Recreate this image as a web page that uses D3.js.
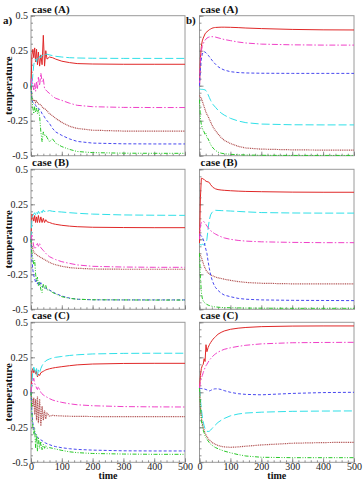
<!DOCTYPE html>
<html>
<head>
<meta charset="utf-8">
<script src="https://cdn.jsdelivr.net/npm/d3@7"></script>
<style>
  html, body { margin: 0; padding: 0; background: #fff; }
  svg { display: block; font-family: "Liberation Serif", "Times New Roman", serif; }
</style>
</head>
<body>
<div id="chart"></div>
<script>
/* ── Data ─────────────────────────────────────────────── */

const times = [0, 3, 6, 9, 12, 15, 18, 21, 24, 28, 32, 36, 40, 44, 48, 52, 60, 70, 80, 100, 125, 150, 200, 300, 400, 500];

const xTicks = [0, 100, 200, 300, 400, 500];
const yTicks = [-0.5, -0.25, 0, 0.25, 0.5];
const yTickLabels = ['-0.5', '-0.25', '0', '0.25', '0.5'];

const seriesNames = ['red', 'cyan', 'magenta', 'brown', 'blue', 'green'];

// panel a) case (A), left
const aRed     = [0.0, 0.22, 0.26, 0.2, 0.27, 0.17, 0.26, 0.15, 0.24, 0.14, 0.22, 0.15, 0.36, 0.14, 0.25, 0.19, 0.205, 0.2, 0.19, 0.175, 0.165, 0.158, 0.155, 0.153, 0.153, 0.153];
const aCyan    = [0.05, 0.0, 0.08, 0.15, 0.18, 0.19, 0.17, 0.2, 0.19, 0.21, 0.2, 0.22, 0.21, 0.22, 0.225, 0.225, 0.22, 0.215, 0.21, 0.205, 0.2, 0.198, 0.196, 0.195, 0.195, 0.195];
const aMagenta = [0.02, 0.05, 0.0, -0.03, 0.02, -0.04, 0.03, -0.02, 0.06, 0.0, 0.09, 0.03, 0.05, -0.02, -0.03, -0.04, -0.055, -0.075, -0.09, -0.105, -0.125, -0.14, -0.15, -0.155, -0.156, -0.156];
const aBrown   = [0.0, -0.08, -0.1, -0.11, -0.1, -0.12, -0.11, -0.12, -0.13, -0.13, -0.14, -0.15, -0.16, -0.165, -0.17, -0.18, -0.2, -0.215, -0.233, -0.262, -0.29, -0.305, -0.318, -0.324, -0.325, -0.325];
const aBlue    = [0.0, -0.1, -0.12, -0.13, -0.13, -0.14, -0.15, -0.16, -0.16, -0.17, -0.18, -0.2, -0.21, -0.225, -0.24, -0.25, -0.27, -0.305, -0.33, -0.355, -0.38, -0.398, -0.41, -0.415, -0.416, -0.416];
const aGreen   = [0.0, -0.1, -0.16, -0.2, -0.15, -0.19, -0.16, -0.2, -0.17, -0.22, -0.33, -0.4, -0.33, -0.36, -0.35, -0.37, -0.4, -0.38, -0.41, -0.435, -0.455, -0.47, -0.478, -0.482, -0.483, -0.483];

// panel b) case (A), right
const bRed     = [0.0, 0.2, 0.28, 0.32, 0.34, 0.355, 0.37, 0.38, 0.385, 0.393, 0.4, 0.405, 0.41, 0.413, 0.415, 0.416, 0.417, 0.418, 0.418, 0.417, 0.415, 0.412, 0.408, 0.402, 0.399, 0.398];
const bCyan    = [-0.02, -0.025, -0.026, -0.026, -0.027, -0.028, -0.03, -0.035, -0.045, -0.065, -0.085, -0.105, -0.12, -0.135, -0.145, -0.155, -0.175, -0.195, -0.21, -0.233, -0.252, -0.264, -0.274, -0.279, -0.28, -0.28];
const bMagenta = [0.0, 0.18, 0.25, 0.28, 0.3, 0.315, 0.325, 0.333, 0.34, 0.345, 0.348, 0.35, 0.35, 0.35, 0.349, 0.347, 0.342, 0.336, 0.33, 0.322, 0.312, 0.305, 0.297, 0.292, 0.29, 0.29];
const bBrown   = [-0.07, -0.08, -0.09, -0.11, -0.13, -0.15, -0.17, -0.19, -0.205, -0.22, -0.24, -0.26, -0.28, -0.295, -0.31, -0.322, -0.345, -0.37, -0.39, -0.413, -0.433, -0.445, -0.453, -0.458, -0.46, -0.46];
const bBlue    = [0.0, 0.12, 0.19, 0.225, 0.24, 0.243, 0.24, 0.235, 0.228, 0.218, 0.207, 0.195, 0.183, 0.172, 0.162, 0.153, 0.136, 0.122, 0.112, 0.1, 0.094, 0.091, 0.089, 0.088, 0.088, 0.088];
const bGreen   = [-0.1, -0.23, -0.28, -0.3, -0.32, -0.33, -0.35, -0.34, -0.37, -0.38, -0.4, -0.42, -0.435, -0.445, -0.455, -0.462, -0.475, -0.482, -0.486, -0.49, -0.493, -0.495, -0.497, -0.498, -0.498, -0.498];

// panel c) case (B), left
const cRed     = [0.0, 0.18, 0.16, 0.13, 0.17, 0.12, 0.16, 0.12, 0.17, 0.12, 0.16, 0.12, 0.15, 0.12, 0.14, 0.125, 0.12, 0.112, 0.107, 0.1, 0.094, 0.09, 0.086, 0.084, 0.083, 0.083];
const cCyan    = [0.0, 0.15, 0.17, 0.18, 0.19, 0.175, 0.195, 0.18, 0.2, 0.185, 0.205, 0.19, 0.21, 0.195, 0.205, 0.2, 0.205, 0.2, 0.198, 0.195, 0.19, 0.186, 0.18, 0.174, 0.172, 0.171];
const cMagenta = [0.0, 0.03, -0.01, -0.05, -0.07, -0.06, -0.04, -0.03, -0.05, -0.03, -0.06, -0.07, -0.08, -0.09, -0.1, -0.11, -0.124, -0.135, -0.145, -0.16, -0.172, -0.183, -0.193, -0.198, -0.2, -0.2];
const cBrown   = [0.0, -0.05, -0.07, -0.09, -0.1, -0.105, -0.11, -0.115, -0.12, -0.125, -0.13, -0.135, -0.14, -0.145, -0.15, -0.155, -0.165, -0.175, -0.182, -0.193, -0.202, -0.207, -0.212, -0.214, -0.214, -0.214];
const cBlue    = [0.0, -0.15, -0.22, -0.26, -0.28, -0.31, -0.29, -0.32, -0.3, -0.33, -0.31, -0.34, -0.33, -0.345, -0.35, -0.355, -0.362, -0.375, -0.387, -0.405, -0.42, -0.428, -0.432, -0.433, -0.433, -0.433];
const cGreen   = [0.0, -0.1, -0.14, -0.18, -0.15, -0.25, -0.3, -0.27, -0.33, -0.3, -0.36, -0.38, -0.32, -0.35, -0.33, -0.36, -0.365, -0.38, -0.39, -0.41, -0.422, -0.428, -0.432, -0.433, -0.434, -0.434];

// panel d) case (B), right
const dRed     = [-0.03, 0.3, 0.436, 0.435, 0.43, 0.428, 0.42, 0.415, 0.412, 0.41, 0.405, 0.39, 0.38, 0.37, 0.365, 0.36, 0.355, 0.352, 0.35, 0.347, 0.344, 0.342, 0.34, 0.337, 0.336, 0.336];
const dCyan    = [-0.03, -0.04, -0.04, -0.035, -0.04, -0.035, -0.035, -0.03, 0.0, 0.08, 0.14, 0.175, 0.19, 0.2, 0.205, 0.207, 0.206, 0.205, 0.204, 0.202, 0.199, 0.196, 0.191, 0.188, 0.187, 0.187];
const dMagenta = [0.0, 0.1, 0.12, 0.125, 0.128, 0.125, 0.115, 0.105, 0.095, 0.083, 0.072, 0.062, 0.055, 0.048, 0.042, 0.037, 0.028, 0.018, 0.01, 0.0, -0.008, -0.013, -0.018, -0.022, -0.024, -0.024];
const dBrown   = [-0.1, -0.12, -0.13, -0.15, -0.17, -0.19, -0.205, -0.22, -0.23, -0.24, -0.248, -0.253, -0.258, -0.262, -0.266, -0.27, -0.275, -0.28, -0.285, -0.293, -0.302, -0.308, -0.314, -0.318, -0.319, -0.319];
const dBlue    = [0.03, 0.03, 0.025, 0.015, 0.0, -0.02, -0.05, -0.075, -0.1, -0.16, -0.21, -0.255, -0.285, -0.31, -0.33, -0.345, -0.365, -0.385, -0.398, -0.41, -0.422, -0.428, -0.433, -0.436, -0.437, -0.438];
const dGreen   = [-0.1, -0.27, -0.38, -0.42, -0.44, -0.45, -0.456, -0.462, -0.465, -0.47, -0.473, -0.476, -0.478, -0.48, -0.482, -0.483, -0.485, -0.487, -0.488, -0.489, -0.49, -0.491, -0.492, -0.493, -0.493, -0.493];

// panel e) case (C), left
const eRed     = [0.0, 0.15, 0.17, 0.14, 0.16, 0.13, 0.15, 0.11, 0.13, 0.12, 0.14, 0.145, 0.15, 0.155, 0.16, 0.163, 0.168, 0.173, 0.177, 0.183, 0.19, 0.196, 0.202, 0.206, 0.207, 0.207];
const eCyan    = [0.0, 0.08, 0.15, 0.18, 0.16, 0.13, 0.17, 0.12, 0.16, 0.14, 0.17, 0.19, 0.205, 0.215, 0.225, 0.23, 0.238, 0.245, 0.25, 0.256, 0.263, 0.268, 0.274, 0.278, 0.279, 0.279];
const eMagenta = [0.0, 0.05, 0.08, 0.1, 0.06, 0.05, 0.03, 0.02, 0.04, 0.02, 0.0, -0.01, -0.02, -0.025, -0.03, -0.035, -0.045, -0.055, -0.062, -0.072, -0.082, -0.089, -0.096, -0.102, -0.104, -0.105];
const eBrown   = [0.0, -0.06, -0.1, -0.04, -0.16, -0.05, -0.2, -0.03, -0.22, -0.05, -0.24, -0.1, -0.2, -0.13, -0.19, -0.15, -0.17, -0.165, -0.167, -0.169, -0.171, -0.172, -0.173, -0.174, -0.174, -0.174];
const eBlue    = [0.0, -0.14, -0.22, -0.26, -0.29, -0.3, -0.31, -0.32, -0.33, -0.335, -0.34, -0.345, -0.352, -0.358, -0.363, -0.367, -0.374, -0.382, -0.388, -0.396, -0.403, -0.408, -0.413, -0.418, -0.419, -0.419];
const eGreen   = [0.0, -0.15, -0.25, -0.3, -0.26, -0.4, -0.3, -0.42, -0.32, -0.4, -0.35, -0.41, -0.37, -0.4, -0.38, -0.4, -0.395, -0.4, -0.405, -0.415, -0.425, -0.431, -0.437, -0.441, -0.443, -0.443];

// panel f) case (C), right
const fRed     = [0.03, 0.12, 0.17, 0.19, 0.2, 0.24, 0.22, 0.34, 0.29, 0.32, 0.34, 0.355, 0.368, 0.38, 0.39, 0.398, 0.415, 0.428, 0.438, 0.45, 0.458, 0.463, 0.469, 0.473, 0.474, 0.474];
const fCyan    = [0.03, -0.05, -0.12, -0.17, -0.21, -0.24, -0.26, -0.272, -0.278, -0.28, -0.278, -0.27, -0.26, -0.25, -0.24, -0.232, -0.215, -0.2, -0.187, -0.168, -0.155, -0.148, -0.142, -0.136, -0.134, -0.133];
const fMagenta = [0.03, 0.08, 0.1, 0.12, 0.14, 0.16, 0.175, 0.19, 0.2, 0.215, 0.23, 0.24, 0.25, 0.26, 0.268, 0.275, 0.287, 0.298, 0.307, 0.318, 0.328, 0.336, 0.346, 0.354, 0.356, 0.357];
const fBrown   = [0.03, -0.1, -0.18, -0.22, -0.25, -0.27, -0.29, -0.305, -0.318, -0.33, -0.34, -0.35, -0.357, -0.363, -0.368, -0.372, -0.38, -0.386, -0.39, -0.393, -0.39, -0.385, -0.376, -0.364, -0.359, -0.357];
const fBlue    = [0.03, 0.028, 0.027, 0.026, 0.025, 0.024, 0.022, 0.02, 0.017, 0.012, 0.01, 0.013, 0.018, 0.022, 0.024, 0.025, 0.025, 0.02, 0.012, 0.0, -0.01, -0.015, -0.018, -0.008, -0.002, 0.0];
const fGreen   = [0.03, -0.1, -0.2, -0.24, -0.27, -0.29, -0.31, -0.325, -0.335, -0.348, -0.36, -0.37, -0.377, -0.384, -0.39, -0.395, -0.403, -0.412, -0.42, -0.432, -0.445, -0.455, -0.464, -0.467, -0.467, -0.467];

const panels = [
  { tag: 'a)', title: 'case (A)', col: 0, row: 0, series: [aRed, aCyan, aMagenta, aBrown, aBlue, aGreen] },
  { tag: 'b)', title: 'case (A)', col: 1, row: 0, series: [bRed, bCyan, bMagenta, bBrown, bBlue, bGreen] },
  { tag: '',   title: 'case (B)', col: 0, row: 1, series: [cRed, cCyan, cMagenta, cBrown, cBlue, cGreen] },
  { tag: '',   title: 'case (B)', col: 1, row: 1, series: [dRed, dCyan, dMagenta, dBrown, dBlue, dGreen] },
  { tag: '',   title: 'case (C)', col: 0, row: 2, series: [eRed, eCyan, eMagenta, eBrown, eBlue, eGreen] },
  { tag: '',   title: 'case (C)', col: 1, row: 2, series: [fRed, fCyan, fMagenta, fBrown, fBlue, fGreen] }
];

/* ── Styles ───────────────────────────────────────────── */

const lineStyle = {
  red:     { color: '#e02828', dash: null,                  width: 1 },
  cyan:    { color: '#30e0e8', dash: '8,3',                 width: 1 },
  magenta: { color: '#f040c8', dash: '6,2,1.5,2',           width: 1 },
  brown:   { color: '#b05050', dash: '1,0.8',               width: 1.2 },
  blue:    { color: '#4848f0', dash: '3,2',                 width: 1 },
  green:   { color: '#28c828', dash: '4,1.5,1,1.5,1,1.5',   width: 1 }
};

/* ── Layout ───────────────────────────────────────────── */

const W = 364, H = 480;
const colX = [[31, 185], [199.5, 354]];
const rowTop = [15.7, 169.3, 322.3];
const panelH = 140;

const svg = d3.select('#chart').append('svg')
  .attr('width', W)
  .attr('height', H);

svg.append('rect').attr('width', W).attr('height', H).attr('fill', '#fff');

panels.forEach(p => {
  const [x0, x1] = colX[p.col];
  const y0 = rowTop[p.row];
  const y1 = y0 + panelH;

  const x = d3.scaleLinear().domain([0, 500]).range([x0, x1]);
  const y = d3.scaleLinear().domain([-0.5, 0.5]).range([y1, y0]);

  const g = svg.append('g');

  // frame
  g.append('rect')
    .attr('x', x0).attr('y', y0)
    .attr('width', x1 - x0).attr('height', y1 - y0)
    .attr('fill', 'none')
    .attr('stroke', '#9a9a9a')
    .attr('stroke-width', 1);

  // minor ticks
  const yMinor = d3.range(-0.5, 0.5001, 0.05);
  const xMinor = d3.range(0, 500.1, 20);

  g.append('g')
    .attr('transform', `translate(${x0},0)`)
    .call(d3.axisLeft(y).tickValues(yMinor).tickSize(-2).tickFormat(''))
    .call(s => s.select('.domain').remove());

  g.append('g')
    .attr('transform', `translate(0,${y1})`)
    .call(d3.axisBottom(x).tickValues(xMinor).tickSize(-2).tickFormat(''))
    .call(s => s.select('.domain').remove());

  // major ticks + labels
  const yAxis = g.append('g')
    .attr('transform', `translate(${x0},0)`)
    .call(d3.axisLeft(y).tickValues(yTicks).tickSize(-4).tickPadding(3)
      .tickFormat((d, i) => p.col === 0 ? yTickLabels[i] : ''));
  yAxis.select('.domain').remove();

  const xAxis = g.append('g')
    .attr('transform', `translate(0,${y1})`)
    .call(d3.axisBottom(x).tickValues(xTicks).tickSize(-4).tickPadding(1)
      .tickFormat(d => p.row === 2 ? d : ''));
  xAxis.select('.domain').remove();

  g.selectAll('.tick line').attr('stroke', '#777').attr('stroke-width', 0.8);
  g.selectAll('.tick text')
    .attr('fill', '#222')
    .style('font-family', '"Liberation Serif", serif')
    .style('font-size', '10px');

  // lines
  const line = d3.line()
    .x((d, i) => x(times[i]))
    .y(d => y(d));

  p.series.forEach((vals, k) => {
    const st = lineStyle[seriesNames[k]];
    g.append('path')
      .datum(vals)
      .attr('d', line)
      .attr('fill', 'none')
      .attr('stroke', st.color)
      .attr('stroke-width', st.width)
      .attr('stroke-dasharray', st.dash);
  });

  // title
  g.append('text')
    .attr('x', x0 + 1)
    .attr('y', y0 - 3)
    .attr('font-weight', 'bold')
    .attr('font-size', 11)
    .attr('fill', '#111')
    .text(p.title);

  if (p.tag) {
    g.append('text')
      .attr('x', p.col === 0 ? 3 : 186)
      .attr('y', y0 + 8)
      .attr('font-weight', 'bold')
      .attr('font-size', 11)
      .attr('fill', '#111')
      .text(p.tag);
  }

  if (p.col === 0) {
    g.append('text')
      .attr('transform', `translate(12,${(y0 + y1) / 2}) rotate(-90)`)
      .attr('text-anchor', 'middle')
      .attr('font-weight', 'bold')
      .attr('font-size', 11)
      .attr('fill', '#111')
      .text('temperature');
  }

  if (p.row === 2) {
    g.append('text')
      .attr('x', (x0 + x1) / 2)
      .attr('y', H - 1)
      .attr('text-anchor', 'middle')
      .attr('font-weight', 'bold')
      .attr('font-size', 10)
      .attr('fill', '#111')
      .text('time');
  }
});
</script>
</body>
</html>
